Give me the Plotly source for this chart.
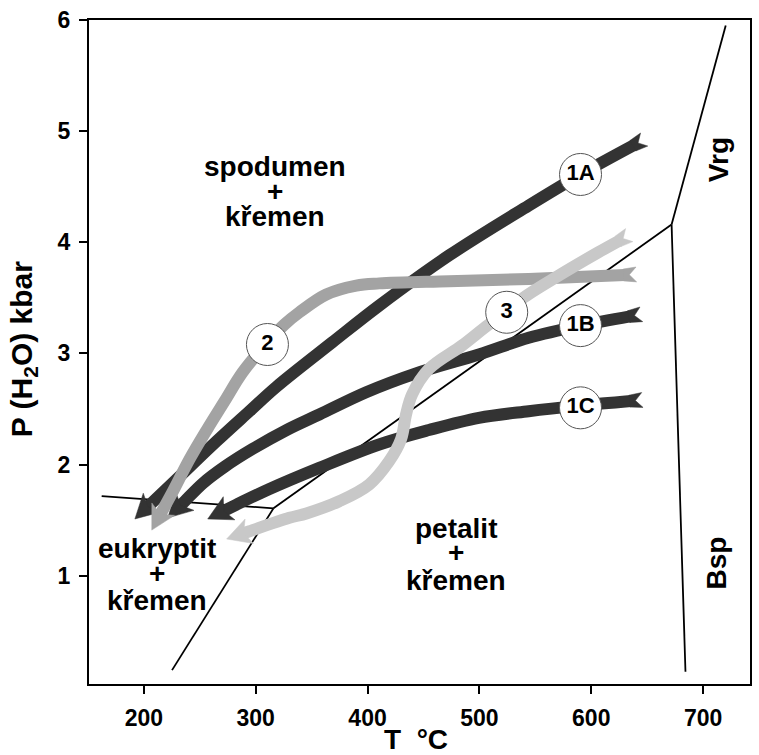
import math
import plotly.graph_objects as go

# ---------------- data ----------------
X_RANGE = [150.98, 741.9]
Y_RANGE = [0.025, 6.0]
x_ticks = [200, 300, 400, 500, 600, 700]
y_ticks = [1, 2, 3, 4, 5, 6]

# phase boundaries (T degC, P kbar)
bnd_eu_sp_T = [162.3, 315.9]
bnd_eu_sp_P = [1.716, 1.606]
bnd_eu_pe_T = [315.9, 225.2]
bnd_eu_pe_P = [1.606, 0.15]
bnd_sp_pe_T = [315.9, 671.8]
bnd_sp_pe_P = [1.606, 4.16]
bnd_vrg_T = [671.8, 720.2]
bnd_vrg_P = [4.16, 5.95]
bnd_bsp_T = [671.8, 684.2]
bnd_bsp_P = [4.16, 0.135]

# P-T paths (first point = arrow tip, last point = tail)
path_1A_T = [192.0, 227.6, 265.1, 294.5, 318.6, 368.5, 410.4, 472.7, 544.0, 590.4, 646.5]
path_1A_P = [1.51, 1.85, 2.21, 2.48, 2.70, 3.10, 3.43, 3.88, 4.33, 4.61, 4.92]
path_1B_T = [221.4, 236.6, 252.6, 272.2, 297.2, 327.5, 356.9, 398.8, 443.3, 499.5, 544.0, 590.4, 643.9]
path_1B_P = [1.52, 1.67, 1.83, 1.98, 2.14, 2.31, 2.45, 2.65, 2.82, 2.99, 3.14, 3.25, 3.35]
path_1C_T = [257.1, 282.9, 312.3, 356.9, 410.4, 454.9, 499.5, 544.0, 590.4, 644.8]
path_1C_P = [1.51, 1.64, 1.78, 1.97, 2.18, 2.31, 2.42, 2.48, 2.53, 2.58]
path_2_T = [207.1, 225.0, 241.0, 256.2, 272.2, 288.3, 310.5, 325.7, 339.1, 363.1, 389.9, 410.4, 472.7, 544.0, 639.4]
path_2_P = [1.41, 1.74, 2.05, 2.31, 2.57, 2.83, 3.10, 3.26, 3.37, 3.53, 3.61, 3.63, 3.65, 3.67, 3.71]
path_3_T = [274.0, 294.5, 330.1, 345.3, 374.7, 401.4, 419.3, 430.0, 434.4, 439.8, 454.9, 484.3, 508.4, 524.4, 537.8, 570.8, 606.4, 633.2]
path_3_P = [1.33, 1.40, 1.52, 1.56, 1.67, 1.82, 2.03, 2.23, 2.45, 2.63, 2.86, 3.07, 3.26, 3.37, 3.49, 3.70, 3.91, 4.06]

label_names = ["1A", "1B", "1C", "2", "3"]
label_T = [590.4, 590.4, 590.4, 310.5, 524.4]
label_P = [4.61, 3.25, 2.51, 3.08, 3.37]

# ---------------- layout geometry ----------------
W, H = 759, 755
ML, MR, MT, MB = 89, 7, 16, 71
PW, PH = W - ML - MR, H - MT - MB
SX = PW / (X_RANGE[1] - X_RANGE[0])
SY = PH / (Y_RANGE[1] - Y_RANGE[0])

FONT = "Liberation Sans, Arial, sans-serif"
DARK = "#333333"
MID = "#a3a3a3"
LIGHT = "#c8c8c8"


def to_px(x, y):
    return ((x - X_RANGE[0]) * SX, (y - Y_RANGE[0]) * SY)


def to_data(px, py):
    return (px / SX + X_RANGE[0], py / SY + Y_RANGE[0])


def unit(ax, ay, bx, by):
    dx, dy = bx - ax, by - ay
    L = math.hypot(dx, dy)
    return dx / L, dy / L


fig = go.Figure()

# boundaries
for bt, bp in [(bnd_eu_sp_T, bnd_eu_sp_P), (bnd_eu_pe_T, bnd_eu_pe_P),
               (bnd_sp_pe_T, bnd_sp_pe_P), (bnd_vrg_T, bnd_vrg_P),
               (bnd_bsp_T, bnd_bsp_P)]:
    fig.add_trace(go.Scatter(x=bt, y=bp, mode="lines",
                             line=dict(color="black", width=1.8),
                             hoverinfo="skip", showlegend=False))


def add_path(T, P, color, lw=12, head_len=24, head_half=13, notch=6, tail_len=12):
    pts = [to_px(t, p) for t, p in zip(T, P)]
    tip = pts[0]
    ux, uy = unit(pts[1][0], pts[1][1], tip[0], tip[1])
    nx, ny = -uy, ux
    base = (tip[0] - ux * (head_len - notch - 1), tip[1] - uy * (head_len - notch - 1))
    head = [tip,
            (tip[0] - ux * head_len + nx * head_half, tip[1] - uy * head_len + ny * head_half),
            (tip[0] - ux * (head_len - notch), tip[1] - uy * (head_len - notch)),
            (tip[0] - ux * head_len - nx * head_half, tip[1] - uy * head_len - ny * head_half),
            tip]
    E = pts[-1]
    dx, dy = unit(pts[-2][0], pts[-2][1], E[0], E[1])
    mx, my = -dy, dx
    hw = lw / 2
    ts = (E[0] - dx * tail_len, E[1] - dy * tail_len)
    tail = [(ts[0] + mx * hw, ts[1] + my * hw),
            (E[0] + mx * (hw + 1.5) + dx * 1, E[1] + my * (hw + 1.5) + dy * 1),
            (E[0] - dx * 6, E[1] - dy * 6),
            (E[0] - mx * (hw + 1.5) + dx * 1, E[1] - my * (hw + 1.5) + dy * 1),
            (ts[0] - mx * hw, ts[1] - my * hw),
            (ts[0] + mx * hw, ts[1] + my * hw)]
    line_px = [base] + pts[1:-1] + [(ts[0] + dx * 1.5, ts[1] + dy * 1.5)]
    ld = [to_data(*q) for q in line_px]
    fig.add_trace(go.Scatter(x=[q[0] for q in ld], y=[q[1] for q in ld], mode="lines",
                             line=dict(color=color, width=lw, shape="spline", smoothing=1.0),
                             hoverinfo="skip", showlegend=False))
    for poly in (head, tail):
        pd_ = [to_data(*q) for q in poly]
        fig.add_trace(go.Scatter(x=[q[0] for q in pd_], y=[q[1] for q in pd_], mode="lines",
                                 fill="toself", fillcolor=color,
                                 line=dict(color=color, width=0.5),
                                 hoverinfo="skip", showlegend=False))


add_path(path_1A_T, path_1A_P, DARK)
add_path(path_1B_T, path_1B_P, DARK)
add_path(path_1C_T, path_1C_P, DARK)
add_path(path_2_T, path_2_P, MID)
add_path(path_3_T, path_3_P, LIGHT)

# path labels in circles
fig.add_trace(go.Scatter(x=label_T, y=label_P, mode="markers+text",
                         text=[f"<b>{t}</b>" for t in label_names],
                         textposition="middle center",
                         textfont=dict(family=FONT, size=22, color="black"),
                         marker=dict(size=42, color="white", line=dict(color="#555555", width=1)),
                         hoverinfo="skip", showlegend=False))

# field labels
field_lines = [
    ("spodumen", 317.7, 4.68), ("+", 317.7, 4.46), ("křemen", 317.7, 4.23),
    ("eukryptit", 211.6, 1.24), ("+", 211.6, 1.02), ("křemen", 211.6, 0.78),
    ("petalit", 478.7, 1.42), ("+", 478.7, 1.21), ("křemen", 478.7, 0.96),
]
annotations = []
for txt, xx, yy in field_lines:
    annotations.append(dict(x=xx, y=yy, xref="x", yref="y", text=f"<b>{txt}</b>",
                            showarrow=False, font=dict(family=FONT, size=28, color="black"),
                            xanchor="center", yanchor="middle"))
for txt, xx, yy in [("Vrg", 713.4, 4.74), ("Bsp", 711.6, 1.11)]:
    annotations.append(dict(x=xx, y=yy, xref="x", yref="y", text=f"<b>{txt}</b>",
                            showarrow=False, textangle=-90,
                            font=dict(family=FONT, size=28, color="black"),
                            xanchor="center", yanchor="middle"))
# axis titles
annotations.append(dict(x=(417 - ML) / PW, y=-(740 - (H - MB)) / PH, xref="paper", yref="paper",
                        text="<b>T  °C</b>", showarrow=False,
                        font=dict(family=FONT, size=28, color="black"),
                        xanchor="center", yanchor="middle"))
annotations.append(dict(x=(23 - ML) / PW, y=((H - MB) - 347) / PH, xref="paper", yref="paper",
                        text="<b>P (H<sub>2</sub>O) kbar</b>", showarrow=False, textangle=-90,
                        font=dict(family=FONT, size=30, color="black"),
                        xanchor="center", yanchor="middle"))

axis_common = dict(showgrid=False, zeroline=False, showline=True, linecolor="black",
                   linewidth=2, mirror=True, ticks="outside", ticklen=8, tickwidth=2,
                   tickcolor="black",
                   tickfont=dict(family=FONT, size=23, color="black", weight="bold"))

fig.update_layout(
    width=W, height=H,
    margin=dict(l=ML, r=MR, t=MT, b=MB, pad=0),
    paper_bgcolor="white", plot_bgcolor="white",
    xaxis=dict(range=X_RANGE, tickvals=x_ticks, ticklabelstandoff=4, **axis_common),
    yaxis=dict(range=Y_RANGE, tickvals=y_ticks, ticklabelstandoff=4, **axis_common),
    annotations=annotations,
    showlegend=False,
)

fig.write_html("out.html",
               config={"displayModeBar": False, "staticPlot": True},
               post_script="document.body.style.margin='0';document.body.style.overflow='hidden';")
